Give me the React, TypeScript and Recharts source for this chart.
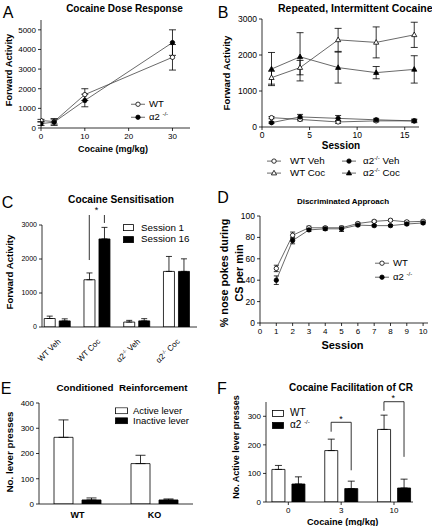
import React from 'react';
import {
  LineChart,
  Line,
  BarChart,
  Bar,
  XAxis,
  YAxis,
  ErrorBar,
  ReferenceLine,
} from 'recharts';

const FONT = '"Liberation Sans", Arial, Helvetica, sans-serif';

// A – cocaine dose response
const doses = [0, 3, 10, 30];
const doseWT = [380, 330, 1700, 3600];
const doseWTErr = [60, 130, 300, 650];
const doseKO = [220, 300, 1400, 4350];
const doseKOErr = [90, 170, 320, 650];
const doseTicks = [0, 10, 20, 30];
const activityTicksA = [0, 1000, 2000, 3000, 4000, 5000];

// B – repeated, intermittent cocaine
const sessionsB = [1, 4, 8, 12, 16];
const wtVeh = [260, 210, 140, 170, 170];
const wtVehErr = [30, 40, 40, 30, 30];
const koVeh = [120, 280, 240, 200, 170];
const koVehErr = [20, 70, 80, 40, 50];
const wtCoc = [1370, 1650, 2420, 2350, 2560];
const wtCocErr = [180, 200, 320, 430, 350];
const koCoc = [1610, 1950, 1650, 1510, 1600];
const koCocErr = [460, 670, 430, 170, 380];
const sessionTicksB = [0, 5, 10, 15];
const activityTicksB = [0, 1000, 2000, 3000];

// C – cocaine sensitisation
const sensGroups = ['WT Veh', 'WT Coc', 'α2 Veh', 'α2 Coc'];
const session1 = [250, 1390, 145, 1635];
const session1Err = [70, 200, 50, 440];
const session16 = [180, 2590, 180, 1635];
const session16Err = [60, 340, 65, 370];
const activityTicksC = [0, 1000, 2000, 3000];

// D – discriminated approach
const sessionsD = [1, 2, 3, 4, 5, 6, 7, 8, 9, 10];
const daWT = [51, 82, 89, 89, 89, 93, 95, 96, 94.5, 95];
const daWTErr = [3, 3, 1.5, 1, 1, 1, 1, 1, 1, 1];
const daKO = [40, 77, 87, 88, 88, 91.5, 91, 91, 92.5, 93.5];
const daKOErr = [4, 3, 1.5, 1.5, 2.5, 1, 1, 1, 1, 1];
const sessionTicksD = [0, 1, 2, 3, 4, 5, 6, 7, 8, 9, 10];
const pctTicks = [0, 20, 40, 60, 80, 100];

// E – conditioned reinforcement
const crGroups = ['WT', 'KO'];
const activeLever = [264, 160];
const activeLeverErr = [69, 33];
const inactiveLever = [16, 16];
const inactiveLeverErr = [8, 4];
const pressTicksE = [0, 100, 200, 300, 400];

// F – cocaine facilitation of CR
const facDoses = ['0', '3', '10'];
const facWT = [114, 180, 254];
const facWTErr = [14, 40, 50];
const facKO = [63, 47, 49];
const facKOErr = [25, 26, 31];
const pressTicksF = [0, 100, 200, 300];

const doseData = doses.map((d, i) => ({
  dose: d,
  wt: doseWT[i],
  wtErr: doseWTErr[i],
  ko: doseKO[i],
  koErr: doseKOErr[i],
}));

const repData = sessionsB.map((s, i) => ({
  s,
  wtVeh: wtVeh[i],
  wtVehErr: wtVehErr[i],
  koVeh: koVeh[i],
  koVehErr: koVehErr[i],
  wtCoc: wtCoc[i],
  wtCocErr: wtCocErr[i],
  koCoc: koCoc[i],
  koCocErr: koCocErr[i],
}));

const sensData = sensGroups.map((g, i) => ({
  i,
  g,
  s1: session1[i],
  s1Err: [0, session1Err[i]],
  s16: session16[i],
  s16Err: [0, session16Err[i]],
}));

const daData = sessionsD.map((s, i) => ({
  s,
  wt: daWT[i],
  wtErr: daWTErr[i],
  ko: daKO[i],
  koErr: daKOErr[i],
}));

const crData = crGroups.map((g, i) => ({
  g,
  act: activeLever[i],
  actErr: [0, activeLeverErr[i]],
  inact: inactiveLever[i],
  inactErr: [0, inactiveLeverErr[i]],
}));

const facData = facDoses.map((d, i) => ({
  i,
  d,
  wt: facWT[i],
  wtErr: [0, facWTErr[i]],
  ko: facKO[i],
  koErr: [0, facKOErr[i]],
}));

const axisLine = { stroke: '#000', strokeWidth: 0.8 };
const tickLine = { stroke: '#000', strokeWidth: 0.8 };
const tick = (fs: number, bold = false) => ({
  fontSize: fs,
  fill: '#000',
  fontFamily: FONT,
  fontWeight: bold ? 'bold' : 'normal',
});

type Shape = 'oc' | 'fc' | 'ot' | 'ft';

function markerEl(shape: Shape, cx: number, cy: number, key?: string | number) {
  const fill = shape === 'fc' || shape === 'ft' ? '#000' : '#fff';
  if (cx == null || cy == null) return <g key={key} />;
  if (shape === 'oc' || shape === 'fc') {
    return <circle key={key} cx={cx} cy={cy} r={2.2} fill={fill} stroke="#000" strokeWidth={0.8} />;
  }
  return (
    <path
      key={key}
      d={`M${cx},${cy - 2.8}L${cx + 2.6},${cy + 1.8}L${cx - 2.6},${cy + 1.8}Z`}
      fill={fill}
      stroke="#000"
      strokeWidth={0.8}
    />
  );
}

const dotFor = (shape: Shape) => (p: any) => markerEl(shape, p.cx, p.cy, p.index);

function Txt({
  x,
  y,
  size,
  bold,
  rotate,
  anchor = 'middle',
  children,
}: {
  x: number;
  y: number;
  size: number;
  bold?: boolean;
  rotate?: number;
  anchor?: 'start' | 'middle';
  children: React.ReactNode;
}) {
  const tx = anchor === 'middle' ? '-50%' : '0';
  return (
    <div
      style={{
        position: 'absolute',
        left: x,
        top: y,
        transform: `translate(${tx}, -50%)${rotate ? ` rotate(${rotate}deg)` : ''}`,
        fontSize: size,
        fontWeight: bold ? 'bold' : 'normal',
        lineHeight: 1,
        whiteSpace: 'pre',
      }}
    >
      {children}
    </div>
  );
}

const Sup = ({ children, size = 6 }: { children: React.ReactNode; size?: number }) => (
  <sup style={{ fontSize: size, verticalAlign: 'top', position: 'relative', top: -1 }}>{children}</sup>
);

function LineKey({ x, y, shape, size, gap = 4, children }: { x: number; y: number; shape: Shape; size: number; gap?: number; children: React.ReactNode }) {
  return (
    <div
      style={{
        position: 'absolute',
        left: x,
        top: y,
        transform: 'translateY(-50%)',
        display: 'flex',
        alignItems: 'center',
        fontSize: size,
        lineHeight: 1,
        whiteSpace: 'nowrap',
      }}
    >
      <svg width={14} height={8} style={{ marginRight: gap }}>
        <line x1={0} y1={4} x2={14} y2={4} stroke="#444" strokeWidth={0.8} />
        {markerEl(shape, 7, 4)}
      </svg>
      {children}
    </div>
  );
}

function BoxKey({ x, y, w, h, fill, size, gap = 6, children }: { x: number; y: number; w: number; h: number; fill: string; size: number; gap?: number; children: React.ReactNode }) {
  return (
    <div
      style={{
        position: 'absolute',
        left: x,
        top: y,
        transform: 'translateY(-50%)',
        display: 'flex',
        alignItems: 'center',
        fontSize: size,
        lineHeight: 1,
        whiteSpace: 'nowrap',
      }}
    >
      <svg width={w} height={h} style={{ marginRight: gap }}>
        <rect x={0.5} y={0.5} width={w - 1} height={h - 1} fill={fill} stroke="#000" strokeWidth={0.8} />
      </svg>
      {children}
    </div>
  );
}

function SensTick(p: any) {
  const { x, y, payload } = p;
  const label = sensGroups[payload.value] ?? '';
  const [who, what] = label.split(' ');
  return (
    <g transform={`translate(${x + 2},${y + 5})`}>
      <text transform="rotate(-45)" textAnchor="end" dy="0.35em" fontSize={8} fill="#000" fontFamily={FONT}>
        {who === 'α2' ? (
          <>
            <tspan>α2</tspan>
            <tspan dy={-3} fontSize={5}>-/-</tspan>
            <tspan dy={3}>{` ${what}`}</tspan>
          </>
        ) : (
          label
        )}
      </text>
    </g>
  );
}

const lineProps = {
  type: 'linear' as const,
  stroke: '#444',
  strokeWidth: 0.8,
  isAnimationActive: false,
  activeDot: false,
};

const eb = { stroke: '#000', strokeWidth: 0.8, direction: 'y' as const };
const bracket = { stroke: '#000', strokeWidth: 0.8, ifOverflow: 'visible' as const };

export default function App() {
  return (
    <div
      style={{
        position: 'absolute',
        left: 0,
        top: 0,
        width: 432,
        height: 526,
        background: '#fff',
        overflow: 'hidden',
        fontFamily: FONT,
        color: '#000',
      }}
    >
      {/* A */}
      <div style={{ position: 'absolute', left: 0, top: 10 }}>
        <LineChart width={195} height={138} data={doseData} margin={{ top: 10, right: 5, bottom: 0, left: 0 }}>
          <XAxis type="number" dataKey="dose" domain={[0, 34]} ticks={doseTicks} interval={0} allowDataOverflow height={20} axisLine={axisLine} tickLine={tickLine} tickSize={3} tick={tick(8)} />
          <YAxis type="number" domain={[0, 5500]} ticks={activityTicksA} interval={0} allowDataOverflow width={41} axisLine={axisLine} tickLine={tickLine} tickSize={3} tick={tick(8)} />
          <Line dataKey="wt" {...lineProps} dot={dotFor('oc')}>
            <ErrorBar dataKey="wtErr" width={3.5} {...eb} />
          </Line>
          <Line dataKey="ko" {...lineProps} dot={dotFor('fc')}>
            <ErrorBar dataKey="koErr" width={3.5} {...eb} />
          </Line>
        </LineChart>
      </div>
      <Txt x={8} y={12.5} size={16}>A</Txt>
      <Txt x={124.5} y={8.7} size={10} bold>Cocaine Dose Response</Txt>
      <Txt x={10} y={70} size={9.3} bold rotate={-90}>Forward Activity</Txt>
      <Txt x={113} y={148.5} size={9} bold>Cocaine (mg/kg)</Txt>
      <LineKey x={131} y={104} shape="oc" size={9.5}>WT</LineKey>
      <LineKey x={131} y={117} shape="fc" size={9.5}>
        <span>α2 <Sup>-/-</Sup></span>
      </LineKey>

      {/* B */}
      <div style={{ position: 'absolute', left: 216, top: 10 }}>
        <LineChart width={206} height={137} data={repData} margin={{ top: 9, right: 3, bottom: 0, left: 0 }}>
          <XAxis type="number" dataKey="s" domain={[0, 16.5]} ticks={sessionTicksB} interval={0} allowDataOverflow height={20} axisLine={axisLine} tickLine={tickLine} tickSize={3} tick={tick(8.5)} />
          <YAxis type="number" domain={[0, 3000]} ticks={activityTicksB} interval={0} allowDataOverflow width={46} axisLine={axisLine} tickLine={tickLine} tickSize={3} tick={tick(8.5)} />
          <Line dataKey="wtVeh" {...lineProps} dot={dotFor('oc')}>
            <ErrorBar dataKey="wtVehErr" width={3} {...eb} />
          </Line>
          <Line dataKey="koVeh" {...lineProps} dot={dotFor('fc')}>
            <ErrorBar dataKey="koVehErr" width={3} {...eb} />
          </Line>
          <Line dataKey="wtCoc" {...lineProps} dot={dotFor('ot')}>
            <ErrorBar dataKey="wtCocErr" width={3.5} {...eb} />
          </Line>
          <Line dataKey="koCoc" {...lineProps} dot={dotFor('ft')}>
            <ErrorBar dataKey="koCocErr" width={3.5} {...eb} />
          </Line>
        </LineChart>
      </div>
      <Txt x={223} y={12.5} size={16}>B</Txt>
      <Txt x={278} y={8.2} size={10.5} bold anchor="start">Repeated, Intermittent Cocaine</Txt>
      <Txt x={227} y={73} size={9.6} bold rotate={-90}>Forward Activity</Txt>
      <Txt x={341} y={146} size={10} bold>Session</Txt>
      <LineKey x={267} y={161} shape="oc" size={9.8} gap={9}>WT Veh</LineKey>
      <LineKey x={267} y={173} shape="ot" size={9.8} gap={9}>WT Coc</LineKey>
      <LineKey x={342} y={161} shape="fc" size={9.8} gap={7}>
        <span>α2<Sup>-/-</Sup> Veh</span>
      </LineKey>
      <LineKey x={342} y={173} shape="ft" size={9.8} gap={7}>
        <span>α2<Sup>-/-</Sup> Coc</span>
      </LineKey>

      {/* C */}
      <div style={{ position: 'absolute', left: 0, top: 215 }}>
        <BarChart width={200} height={157} data={sensData} margin={{ top: 10, right: 3, bottom: 0, left: 0 }} barSize={11} barGap={4}>
          <XAxis type="number" dataKey="i" domain={[-0.38, 3.52]} ticks={[0, 1, 2, 3]} tickCount={4} interval={0} allowDataOverflow height={45} axisLine={axisLine} tickLine={false} tick={(p: any) => <SensTick {...p} />} />
          <YAxis type="number" domain={[0, 3000]} ticks={activityTicksC} interval={0} allowDataOverflow width={42} axisLine={axisLine} tickLine={tickLine} tickSize={3} tick={tick(7)} />
          <Bar dataKey="s1" fill="#fff" stroke="#000" strokeWidth={0.8} isAnimationActive={false}>
            <ErrorBar dataKey="s1Err" width={3} {...eb} />
          </Bar>
          <Bar dataKey="s16" fill="#000" stroke="#000" strokeWidth={0.8} isAnimationActive={false}>
            <ErrorBar dataKey="s16Err" width={3} {...eb} />
          </Bar>
          <ReferenceLine segment={[{ x: 0.81, y: 1970 }, { x: 0.81, y: 3320 }]} {...bracket} />
          <ReferenceLine segment={[{ x: 0.81, y: 3320 }, { x: 1.19, y: 3320 }]} {...bracket} />
          <ReferenceLine segment={[{ x: 1.19, y: 3320 }, { x: 1.19, y: 3060 }]} {...bracket} />
        </BarChart>
      </div>
      <Txt x={7.5} y={202.5} size={16}>C</Txt>
      <Txt x={121} y={200} size={10.2} bold>Cocaine Sensitisation</Txt>
      <Txt x={96.5} y={210} size={9}>*</Txt>
      <Txt x={10} y={272} size={9.6} bold rotate={-90}>Forward Activity</Txt>
      <BoxKey x={123} y={227.5} w={11} h={7} fill="#fff" size={9.8} gap={7}>Session 1</BoxKey>
      <BoxKey x={123} y={239.3} w={11} h={7} fill="#000" size={9.8} gap={7}>Session 16</BoxKey>

      {/* D */}
      <div style={{ position: 'absolute', left: 216, top: 206 }}>
        <LineChart width={215} height={137} data={daData} margin={{ top: 10, right: 3, bottom: 0, left: 0 }}>
          <XAxis type="number" dataKey="s" domain={[0, 10.3]} ticks={sessionTicksD} interval={0} allowDataOverflow height={20} axisLine={axisLine} tickLine={tickLine} tickSize={3} tick={tick(8)} />
          <YAxis type="number" domain={[0, 100]} ticks={pctTicks} interval={0} allowDataOverflow width={44} axisLine={axisLine} tickLine={tickLine} tickSize={3} tick={tick(8.5)} />
          <Line dataKey="wt" {...lineProps} dot={dotFor('oc')}>
            <ErrorBar dataKey="wtErr" width={2.5} {...eb} />
          </Line>
          <Line dataKey="ko" {...lineProps} dot={dotFor('fc')}>
            <ErrorBar dataKey="koErr" width={2.5} {...eb} />
          </Line>
        </LineChart>
      </div>
      <Txt x={223} y={198} size={16}>D</Txt>
      <Txt x={343} y={202} size={8} bold>Discriminated Approach</Txt>
      <Txt x={224} y={273} size={10.8} bold rotate={-90}>% nose pokes during</Txt>
      <Txt x={238.5} y={273} size={10.8} bold rotate={-90}>CS per min</Txt>
      <Txt x={342.5} y={345} size={11} bold>Session</Txt>
      <LineKey x={375} y={263.3} shape="oc" size={9.6} gap={4}>WT</LineKey>
      <LineKey x={375} y={277.3} shape="fc" size={9.6} gap={4}>
        <span>α2 <Sup>-/-</Sup></span>
      </LineKey>

      {/* E */}
      <div style={{ position: 'absolute', left: 0, top: 393 }}>
        <BarChart width={196} height={131} data={crData} margin={{ top: 10, right: 3, bottom: 0, left: 0 }} barSize={19} barGap={9}>
          <XAxis dataKey="g" height={20} interval={0} axisLine={axisLine} tickLine={false} tick={tick(9, true)} />
          <YAxis type="number" domain={[0, 400]} ticks={pressTicksE} interval={0} allowDataOverflow width={39} axisLine={axisLine} tickLine={tickLine} tickSize={3} tick={tick(8)} />
          <Bar dataKey="act" fill="#fff" stroke="#000" strokeWidth={0.8} isAnimationActive={false}>
            <ErrorBar dataKey="actErr" width={5} {...eb} />
          </Bar>
          <Bar dataKey="inact" fill="#000" stroke="#000" strokeWidth={0.8} isAnimationActive={false}>
            <ErrorBar dataKey="inactErr" width={5} {...eb} />
          </Bar>
        </BarChart>
      </div>
      <Txt x={6} y={389} size={16}>E</Txt>
      <Txt x={122} y={388} size={9.8} bold>Conditioned  Reinforcement</Txt>
      <Txt x={10} y={452} size={9.8} bold rotate={-90}>No. lever presses</Txt>
      <BoxKey x={115} y={410.7} w={13} h={7} fill="#fff" size={9.5} gap={5}>Active lever</BoxKey>
      <BoxKey x={115} y={421} w={13} h={7} fill="#000" size={9.5} gap={5}>Inactive lever</BoxKey>

      {/* F */}
      <div style={{ position: 'absolute', left: 216, top: 392 }}>
        <BarChart width={200} height={130} data={facData} margin={{ top: 10, right: 3, bottom: 0, left: 0 }} barSize={13} barGap={7}>
          <XAxis type="number" dataKey="i" domain={[-0.423, 2.36]} ticks={[0, 1, 2]} tickCount={3} interval={0} allowDataOverflow height={20} axisLine={axisLine} tickLine={tickLine} tickSize={3} tick={tick(8)} tickFormatter={(v: number) => facDoses[v] ?? ''} />
          <YAxis type="number" domain={[0, 350]} ticks={pressTicksF} interval={0} allowDataOverflow width={50} axisLine={axisLine} tickLine={tickLine} tickSize={3} tick={tick(8)} />
          <Bar dataKey="wt" fill="#fff" stroke="#000" strokeWidth={0.8} isAnimationActive={false}>
            <ErrorBar dataKey="wtErr" width={3.5} {...eb} />
          </Bar>
          <Bar dataKey="ko" fill="#000" stroke="#000" strokeWidth={0.8} isAnimationActive={false}>
            <ErrorBar dataKey="koErr" width={3.5} {...eb} />
          </Bar>
          <ReferenceLine segment={[{ x: 0.81, y: 246 }, { x: 0.81, y: 279 }]} {...bracket} />
          <ReferenceLine segment={[{ x: 0.81, y: 279 }, { x: 1.19, y: 279 }]} {...bracket} />
          <ReferenceLine segment={[{ x: 1.19, y: 279 }, { x: 1.19, y: 111 }]} {...bracket} />
          <ReferenceLine segment={[{ x: 1.81, y: 319 }, { x: 1.81, y: 351 }]} {...bracket} />
          <ReferenceLine segment={[{ x: 1.81, y: 351 }, { x: 2.19, y: 351 }]} {...bracket} />
          <ReferenceLine segment={[{ x: 2.19, y: 351 }, { x: 2.19, y: 158 }]} {...bracket} />
        </BarChart>
      </div>
      <Txt x={222} y={389} size={16}>F</Txt>
      <Txt x={351} y={388} size={10} bold>Cocaine Facilitation of CR</Txt>
      <Txt x={341} y={419} size={9}>*</Txt>
      <Txt x={393.3} y={397.5} size={9}>*</Txt>
      <Txt x={236} y={447} size={9} bold rotate={-90}>No. Active lever presses</Txt>
      <Txt x={342.7} y={522.5} size={9.2} bold>Cocaine (mg/kg)</Txt>
      <BoxKey x={272} y={413.3} w={12} h={7} fill="#fff" size={10} gap={6}>WT</BoxKey>
      <BoxKey x={272} y={425.3} w={12} h={7} fill="#000" size={10} gap={6}>
        <span>α2 <Sup>-/-</Sup></span>
      </BoxKey>
    </div>
  );
}
